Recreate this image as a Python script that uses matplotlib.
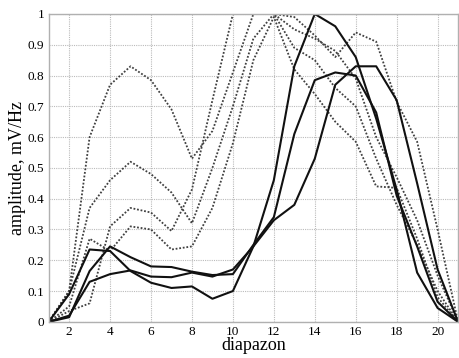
import numpy as np
import matplotlib
matplotlib.use('Agg')
import matplotlib.pyplot as plt

plt.rcParams['font.family'] = ['Liberation Serif', 'DejaVu Serif']

x = np.arange(1, 22)

# solid curves
solid_1 = [0, 0.09, 0.235, 0.23, 0.165, 0.127, 0.11, 0.115, 0.075, 0.10, 0.245,
           0.46, 0.83, 1.0, 0.96, 0.86, 0.66, 0.43, 0.16, 0.045, 0]
solid_2 = [0, 0.015, 0.165, 0.245, 0.21, 0.18, 0.178, 0.163, 0.152, 0.155, 0.25,
           0.34, 0.61, 0.785, 0.81, 0.80, 0.68, 0.41, 0.245, 0.065, 0]
solid_3 = [0, 0.02, 0.13, 0.155, 0.167, 0.147, 0.145, 0.16, 0.147, 0.17, 0.245,
           0.33, 0.38, 0.53, 0.77, 0.83, 0.83, 0.72, 0.45, 0.17, 0]

# dotted curves
dotted_1 = [0, 0.10, 0.60, 0.77, 0.83, 0.785, 0.69, 0.53, 0.62, 0.81, 1.0,
            1.0, 0.99, 0.93, 0.86, 0.94, 0.91, 0.715, 0.585, 0.30, 0]
dotted_2 = [0, 0.10, 0.37, 0.46, 0.52, 0.48, 0.42, 0.32, 0.50, 0.70, 0.92,
            1.0, 0.89, 0.85, 0.76, 0.70, 0.53, 0.38, 0.25, 0.10, 0]
dotted_3 = [0, 0.035, 0.06, 0.31, 0.37, 0.355, 0.295, 0.43, 0.72, 1.0, 1.0,
            1.0, 0.95, 0.92, 0.88, 0.79, 0.60, 0.47, 0.33, 0.15, 0]
dotted_4 = [0, 0.05, 0.27, 0.23, 0.31, 0.30, 0.235, 0.245, 0.37, 0.58, 0.85,
            0.99, 0.82, 0.74, 0.65, 0.585, 0.44, 0.435, 0.27, 0.08, 0]

fig = plt.figure(figsize=(4.59, 3.58), dpi=100)
ax = fig.add_axes([0.106, 0.101, 0.892, 0.860])

for ys in [dotted_1, dotted_2, dotted_3, dotted_4]:
    ax.plot(x, ys, color='#404040', lw=1.3, linestyle=(0, (1, 1)))
for ys in [solid_1, solid_2, solid_3]:
    ax.plot(x, ys, color='#111111', lw=1.5)

ax.set_xlim(1, 21)
ax.set_ylim(0, 1)
ax.set_xticks(np.arange(2, 21, 2))
ax.set_yticks(np.arange(0, 1.01, 0.1))
ax.set_yticklabels(['0', '0.1', '0.2', '0.3', '0.4', '0.5', '0.6', '0.7', '0.8', '0.9', '1'])
ax.grid(True, color='#bbbbbb', linestyle=(0, (1, 1)), lw=0.8)
ax.tick_params(length=0, labelsize=9.5, pad=3)
for s in ax.spines.values():
    s.set_color('#b0b0b0')
    s.set_linewidth(1.0)

ax.set_xlabel('diapazon', fontsize=13, labelpad=-1)
ax.set_ylabel('amplitude, mV/Hz', fontsize=13, labelpad=1)

fig.savefig('out.png', dpi=100)
